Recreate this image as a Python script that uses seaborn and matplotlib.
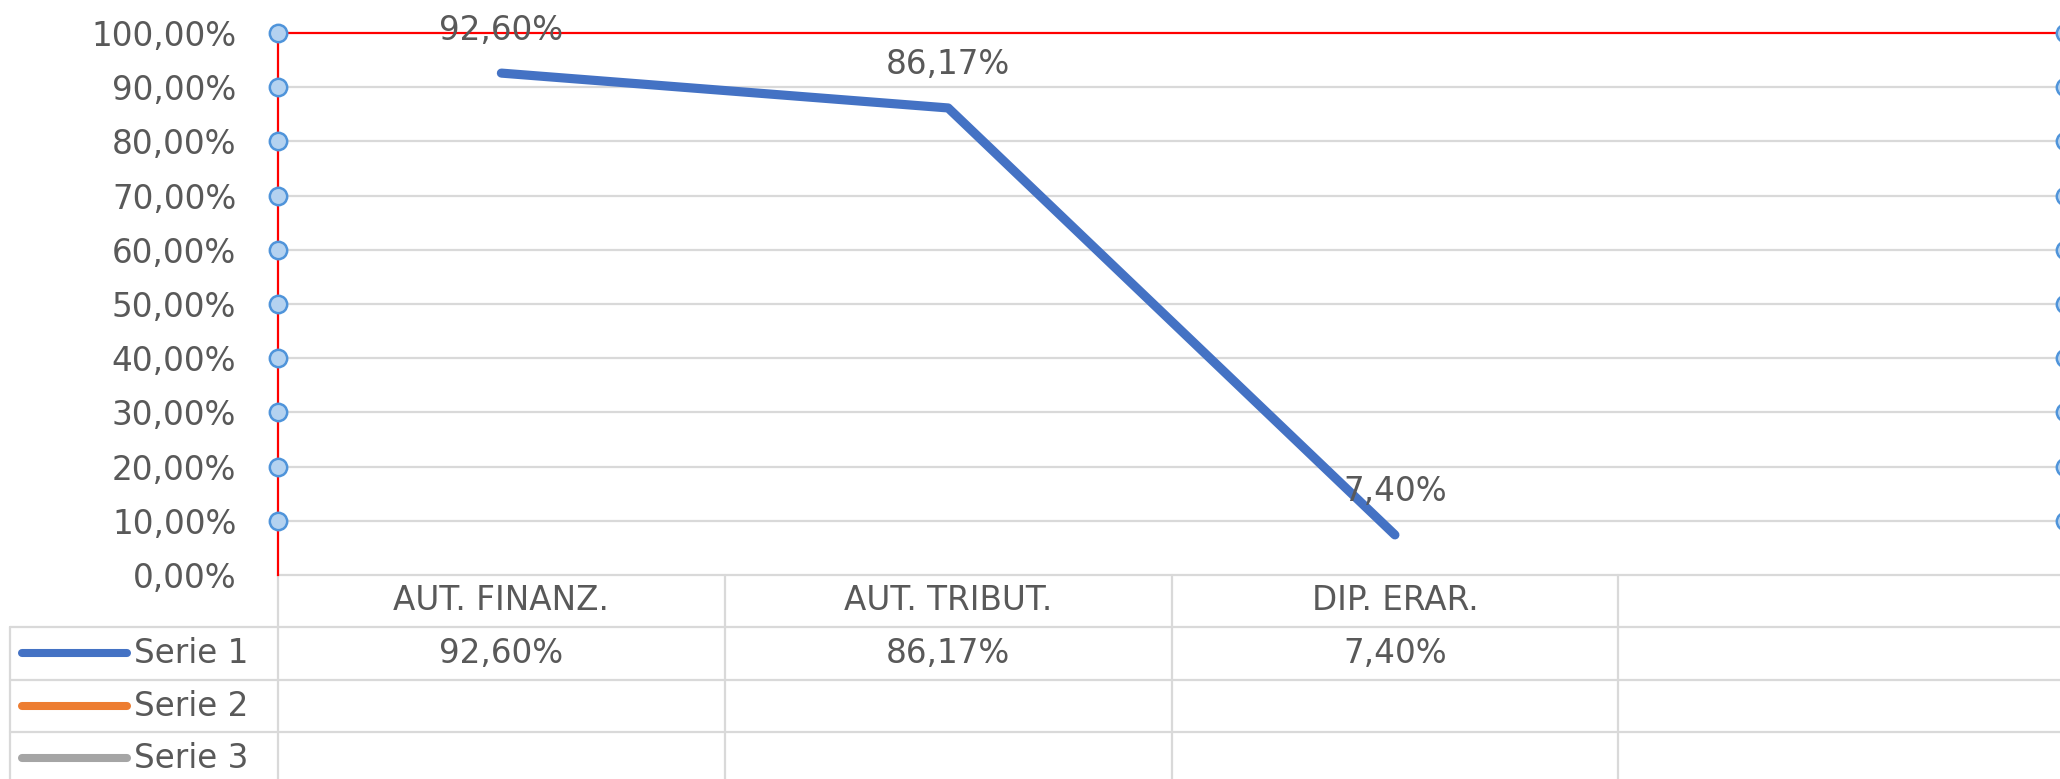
import numpy as np
import pandas as pd
import matplotlib
matplotlib.use("Agg")
import matplotlib.pyplot as plt
import matplotlib.transforms as mtransforms
import seaborn as sns

# ---- data ----
categories = ["AUT. FINANZ.", "AUT. TRIBUT.", "DIP. ERAR.", ""]
serie1 = [92.60, 86.17, 7.40]
series_names = ["Serie 1", "Serie 2", "Serie 3"]
series_colors = ["#4472C4", "#ED7D31", "#A5A5A5"]
yticks = [0, 10, 20, 30, 40, 50, 60, 70, 80, 90, 100]

def pct(v):
    return f"{v:.2f}%".replace(".", ",")

sns.set_theme(style="white")
plt.rcParams["font.family"] = ["DejaVu Sans"]

TXT = "#595959"
GRID = "#D9D9D9"
RED = "#FF0000"
FS = 23.5

fig = plt.figure(figsize=(20.6, 7.79), dpi=100)
fig.patch.set_facecolor("white")
ax = fig.add_axes([0.13495, 0.26187, 0.8675, 0.69577])

df = pd.DataFrame({"x": np.arange(len(serie1)), "y": serie1})
sns.lineplot(data=df, x="x", y="y", ax=ax, color=series_colors[0], linewidth=6.6,
             solid_capstyle="round", zorder=5)

ncat = len(categories)
ax.set_xlim(-0.5, ncat - 0.5)
ax.set_ylim(0, 100)
ax.set_xlabel("")
ax.set_ylabel("")
ax.set_xticks([])
ax.set_yticks(yticks)
ax.set_yticklabels([pct(v) for v in yticks], color=TXT, fontsize=FS)
ax.tick_params(axis="y", length=0, pad=30)

# gridlines
for v in yticks[1:-1]:
    ax.axhline(v, color=GRID, linewidth=1.6, zorder=1)

# spines
for s in ["right", "bottom"]:
    ax.spines[s].set_visible(False)
ax.spines["left"].set_color(RED)
ax.spines["left"].set_linewidth(1.6)
ax.spines["top"].set_color(RED)
ax.spines["top"].set_linewidth(1.6)

# selection handle markers on both sides
for xe in [-0.5, ncat - 0.5]:
    ax.plot([xe] * (len(yticks) - 1), yticks[1:], linestyle="none", marker="o",
            markersize=12.5, markerfacecolor="#B4D2F0", markeredgecolor="#4F94DA",
            markeredgewidth=1.8, clip_on=False, zorder=6)

# data labels
for i, v in enumerate(serie1):
    ax.annotate(pct(v), (i, v), xytext=(0, 31), textcoords="offset points",
                ha="center", va="center", color=TXT, fontsize=FS, zorder=7)

# ---- data table below ----
bt = mtransforms.blended_transform_factory(ax.transData, ax.transAxes)
ta = ax.transAxes
row_edges = [0, -0.0959, -0.1937, -0.2897, -0.3856]
leg_left = -0.15

# horizontal lines
ax.plot([0, 1], [0, 0], transform=ta, color=GRID, lw=1.6, clip_on=False, zorder=2)
for yy in row_edges[1:4]:
    ax.plot([leg_left, 1], [yy, yy], transform=ta, color=GRID, lw=1.6, clip_on=False)
# vertical lines
for xb in np.arange(ncat) - 0.5:
    ax.plot([xb, xb], [0, row_edges[-1]], transform=bt, color=GRID, lw=1.6, clip_on=False)
ax.plot([leg_left, leg_left], [row_edges[1], row_edges[-1]], transform=ta, color=GRID,
        lw=1.6, clip_on=False)

# category headers
ymid = [(row_edges[k] + row_edges[k + 1]) / 2 for k in range(4)]
for i, c in enumerate(categories):
    ax.text(i, ymid[0], c, transform=bt, ha="center", va="center", color=TXT, fontsize=FS)
# serie 1 values
for i, v in enumerate(serie1):
    ax.text(i, ymid[1], pct(v), transform=bt, ha="center", va="center", color=TXT, fontsize=FS)
# legend keys
for k, (nm, col) in enumerate(zip(series_names, series_colors)):
    yy = ymid[k + 1]
    ax.plot([-0.1433, -0.0845], [yy, yy], transform=ta, color=col, lw=5.8,
            solid_capstyle="round", clip_on=False)
    ax.text(-0.0805, yy, nm, transform=ta, ha="left", va="center", color=TXT, fontsize=FS)

fig.savefig("out.png", dpi=100, facecolor="white")
